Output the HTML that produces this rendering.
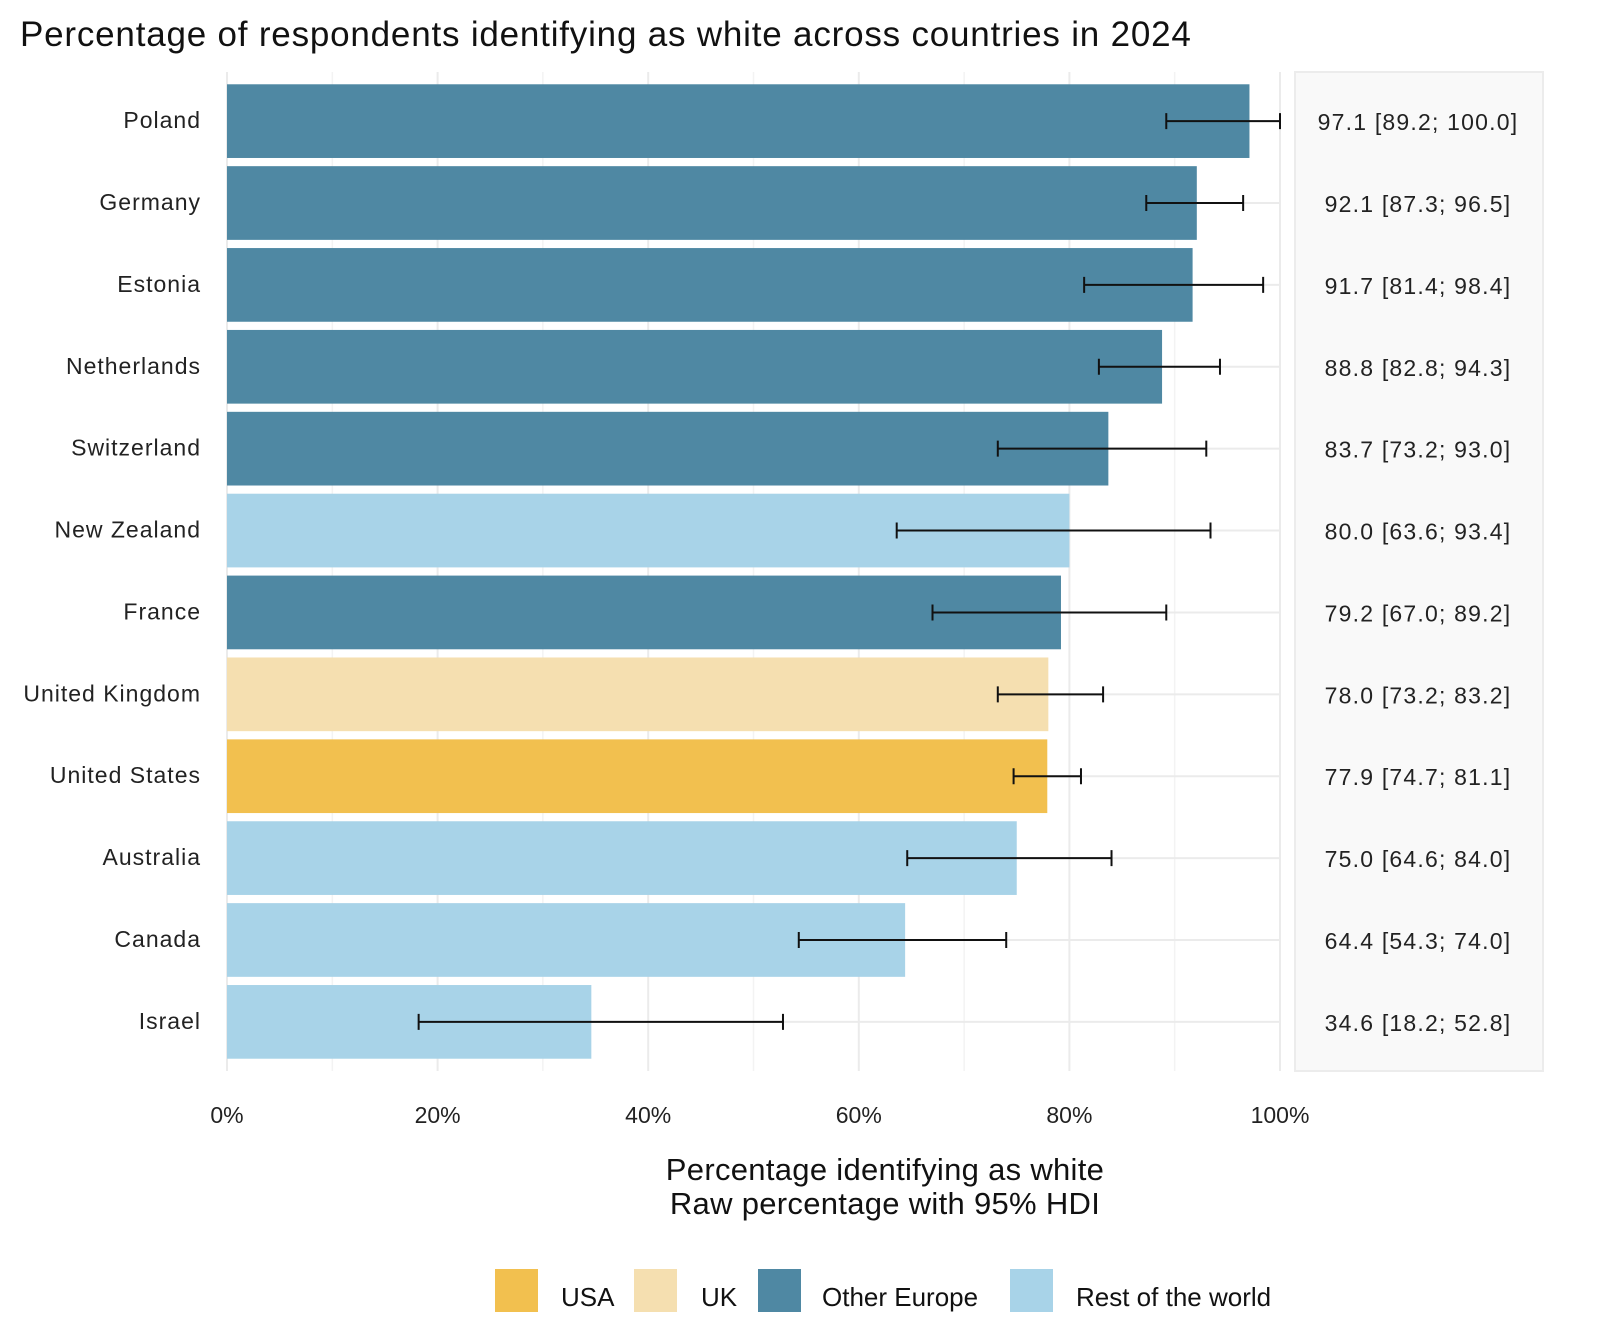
<!DOCTYPE html>
<html><head><meta charset="utf-8"><style>
body{margin:0;background:#fff;}
svg{display:block;font-family:"Liberation Sans",sans-serif;}
</style></head><body>
<svg id="chart" width="1600" height="1334" viewBox="0 0 1600 1334">
<text x="20" y="46" font-size="35" letter-spacing="0.8" fill="#111">Percentage of respondents identifying as white across countries in 2024</text>
<rect x="1295" y="72" width="248" height="999" fill="#f9f9f9" stroke="#ececec" stroke-width="2"/>
<g id="grid"></g><g id="bars"></g><g id="labels"></g>
<text x="885" y="1180" font-size="31" letter-spacing="0.3" text-anchor="middle" fill="#111">Percentage identifying as white</text>
<text x="885" y="1214" font-size="31" letter-spacing="0.3" text-anchor="middle" fill="#111">Raw percentage with 95% HDI</text>
<g font-size="26">
<rect x="495" y="1269" width="43" height="43" fill="#f2c04f"/>
<text x="561" y="1306" fill="#111">USA</text>
<rect x="634" y="1269" width="43" height="43" fill="#f5dfb0"/>
<text x="701" y="1306" fill="#111">UK</text>
<rect x="758" y="1269" width="43" height="43" fill="#4f88a3"/>
<text x="822" y="1306" fill="#111">Other Europe</text>
<rect x="1010" y="1269" width="43" height="43" fill="#a8d3e8"/>
<text x="1076" y="1306" fill="#111">Rest of the world</text>
</g>
</svg>
<script>
const countries=["Poland","Germany","Estonia","Netherlands","Switzerland","New Zealand","France","United Kingdom","United States","Australia","Canada","Israel"];
const values=[97.1,92.1,91.7,88.8,83.7,80.0,79.2,78.0,77.9,75.0,64.4,34.6];
const lower=[89.2,87.3,81.4,82.8,73.2,63.6,67.0,73.2,74.7,64.6,54.3,18.2];
const upper=[100.0,96.5,98.4,94.3,93.0,93.4,89.2,83.2,81.1,84.0,74.0,52.8];
const groups=["eu","eu","eu","eu","eu","row","eu","uk","usa","row","row","row"];
const xTicks=[0,20,40,60,80,100];
const xMinor=[10,30,50,70,90];
const colors={usa:"#f2c04f",uk:"#f5dfb0",eu:"#4f88a3",row:"#a8d3e8"};
const NS="http://www.w3.org/2000/svg";
const x0=227,x1=1280,yTop=72,yBot=1071;
const step=(yBot-yTop)/(countries.length+0.2);
const xs=v=>x0+(x1-x0)*v/100;
const yc=i=>yTop+step*(0.6+i);
function mk(tag,at,parent){const e=document.createElementNS(NS,tag);for(const k in at)e.setAttribute(k,at[k]);document.getElementById(parent).appendChild(e);return e;}
xMinor.forEach(t=>{const l=mk("line",{x1:xs(t),x2:xs(t),y1:yTop,y2:yBot,stroke:"#f3f3f3","stroke-width":1.5},"grid");

});
xTicks.forEach(t=>{const l=mk("line",{x1:xs(t),x2:xs(t),y1:yTop,y2:yBot,stroke:"#ebebeb","stroke-width":2},"grid");


const tx=mk("text",{x:xs(t),y:1123,"font-size":23,"text-anchor":"middle",fill:"#222"},"labels");tx.textContent=t+"%";

});
countries.forEach((c,i)=>{const y=yc(i);
const g=mk("line",{x1:x0,x2:x1,y1:y,y2:y,stroke:"#ebebeb","stroke-width":2},"grid");


const bh=step*0.9;
const r=mk("rect",{x:x0,y:y-bh/2,width:xs(values[i])-x0,height:bh,fill:colors[groups[i]]},"bars");


const e=mk("path",{d:`M${xs(lower[i])},${y}H${xs(upper[i])}M${xs(lower[i])},${y-8}V${y+8}M${xs(upper[i])},${y-8}V${y+8}`,stroke:"#111","stroke-width":2,fill:"none"},"bars");


const lb=mk("text",{x:201,y:y+7,"font-size":23,"letter-spacing":1,"text-anchor":"end",fill:"#222"},"labels");lb.textContent=c;


const vt=mk("text",{x:1418,y:y+9,"font-size":23,"letter-spacing":1.2,"text-anchor":"middle",fill:"#222"},"labels");
vt.textContent=`${values[i].toFixed(1)} [${lower[i].toFixed(1)}; ${upper[i].toFixed(1)}]`;

});
</script>
</body></html>
